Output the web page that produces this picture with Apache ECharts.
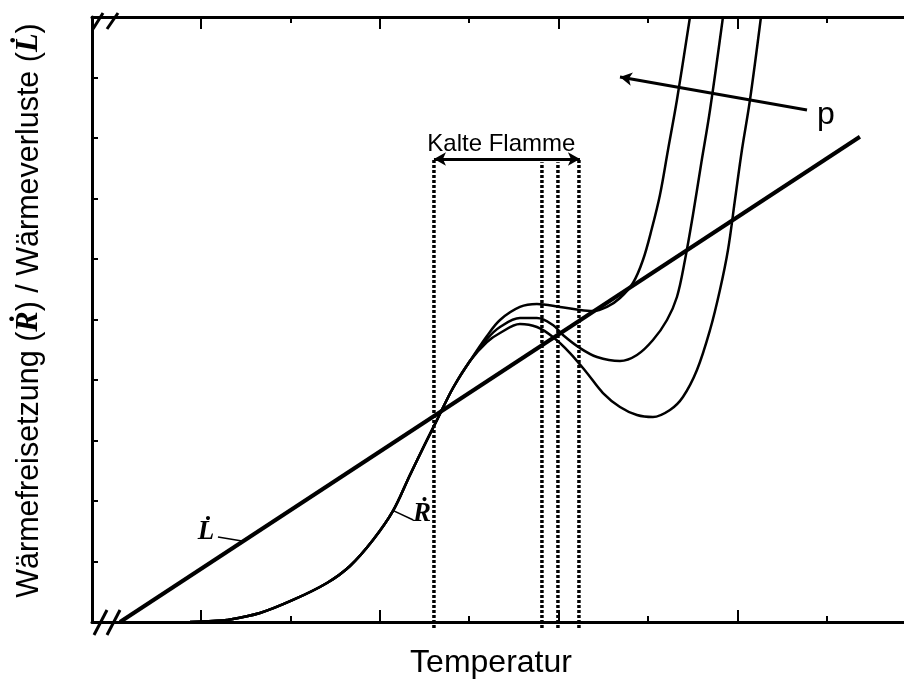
<!DOCTYPE html>
<html><head><meta charset="utf-8">
<script src="https://cdn.jsdelivr.net/npm/echarts@6/dist/echarts.min.js"></script>
<style>html,body{margin:0;padding:0;background:#fff}#c{width:904px;height:686px}</style>
</head><body><div id="c"></div>
<script>
// ---------------- data (axis units) ----------------
const X_MIN = 7.81, X_MAX = 98.64, Y_MIN = 0, Y_MAX = 10, Y_STEP = 1;
const xMajorTicks = [20, 40, 60, 80];
const xMinorTicks = [30, 50, 70, 90];
const xAxisTitle = 'Temperatur';
const yAxisTitleParts = ['Wärmefreisetzung (', 'R\u0307', ') / Wärmeverluste (', 'L\u0307', ')'];

// heat loss L (straight line)
const lossX = [10.94, 93.71];
const lossY = [0, 8.02];

// heat release R: common lower part
const commonX = [18.77, 21.34, 22.91, 26.60, 30.29, 34.09, 36.67, 39.24, 41.48, 43.38, 45.06, 46.40, 48.19, 50.09];
const commonY = [0, 0.017, 0.033, 0.149, 0.364, 0.645, 0.926, 1.355, 1.835, 2.43, 2.942, 3.339, 3.868, 4.314];
// three pressures (branches after the common part)
const branch1X = [51.99, 53.45, 55.68, 57.58, 60.16, 62.39, 63.85, 65.41, 66.87, 68.32, 69.44, 70.45, 71.34, 72.24, 73.24, 74.70];
const branch1Y = [4.727, 4.992, 5.207, 5.256, 5.207, 5.157, 5.140, 5.207, 5.355, 5.603, 5.983, 6.512, 7.058, 7.802, 8.628, 10.0];
const branch2X = [51.99, 53.45, 55.68, 57.58, 59.37, 60.49, 62.39, 64.30, 66.87, 68.77, 70.56, 72.13, 73.24, 74.14, 75.03, 75.93, 76.94, 78.39];
const branch2Y = [4.678, 4.876, 5.025, 5.025, 4.909, 4.744, 4.529, 4.380, 4.314, 4.413, 4.661, 4.992, 5.372, 5.983, 6.727, 7.554, 8.463, 10.0];
const branch3X = [51.99, 53.45, 55.68, 57.58, 59.37, 61.28, 63.18, 64.97, 66.87, 68.77, 70.56, 72.46, 73.91, 75.48, 76.94, 78.05, 78.95, 79.73, 80.51, 81.41, 82.64];
const branch3Y = [4.628, 4.777, 4.926, 4.876, 4.711, 4.446, 4.116, 3.785, 3.554, 3.421, 3.388, 3.504, 3.719, 4.165, 4.826, 5.488, 6.149, 6.975, 7.802, 8.628, 10.0];

// cool flame boundaries (vertical dotted lines)
const coolFlameX = [46.06, 58.14, 59.93, 62.28];
const coolFlameTopY = [7.64, 7.60, 7.60, 7.64];
const coolFlameBottomY = -0.1;
const coolFlameArrowX = [46.06, 62.39];
const coolFlameArrowY = 7.653;
const coolFlameLabel = 'Kalte Flamme';

// pressure arrow
const pArrowFrom = [87.79, 8.463];
const pArrowTo = [66.87, 9.008];
const pLabel = 'p';

// ---------------- build ----------------
const zip = (xs, ys) => xs.map((x, i) => [x, ys[i]]);
const curve = (bx, by) => zip(commonX, commonY).concat(zip(bx, by));
const chart = echarts.init(document.getElementById('c'), null, {renderer: 'canvas'});
const SANS = 'Liberation Sans, Arial, sans-serif';
const SERIF = 'Liberation Serif, Times New Roman, serif';

const baseX = (pos, ticks, len, showLine) => ({
  type: 'value', position: pos, min: X_MIN, max: X_MAX, gridIndex: 0,
  axisLine: {show: showLine, onZero: false, lineStyle: {color: '#000', width: 3}},
  axisTick: {show: true, inside: true, length: len, customValues: ticks, lineStyle: {color: '#000', width: 2}},
  axisLabel: {show: false}, splitLine: {show: false}
});

const xAxes = [
  Object.assign(baseX('bottom', xMajorTicks, 12, true), {name: xAxisTitle, nameLocation: 'middle', nameGap: 25,
    nameTextStyle: {fontFamily: SANS, fontSize: 32, color: '#000', padding: [0, 14, 0, 0]}}),
  baseX('bottom', xMinorTicks, 6, false),
  baseX('top', xMajorTicks, 12, true),
  baseX('top', xMinorTicks, 6, false)
];

const lineSeries = (data, w, extra) => Object.assign({
  type: 'line', data, xAxisIndex: 0, yAxisIndex: 0, showSymbol: false, smooth: 0.35,
  lineStyle: {color: '#000', width: w}, silent: true, clip: true
}, extra || {});

const ml = (a, b, style, syms) => [
  {coord: a, symbol: syms[0], lineStyle: style},
  {coord: b, symbol: syms[1]}
];

const markData = [];
markData.push(ml([coolFlameArrowX[0], coolFlameArrowY], [coolFlameArrowX[1], coolFlameArrowY], {color: '#000', width: 3, type: 'solid'}, ['arrow', 'arrow']));
markData.push(ml(pArrowFrom, pArrowTo, {color: '#000', width: 3, type: 'solid'}, ['none', 'arrow']));

const dottedSeries = coolFlameX.map((x, i) => lineSeries(
  [[x, coolFlameBottomY], [x, coolFlameTopY[i]]], 3.5,
  {smooth: false, clip: false, lineStyle: {color: '#000', width: 3.5, type: [3, 2], cap: 'butt'}}));

chart.setOption({
  animation: false,
  backgroundColor: '#fff',
  grid: {left: 92, right: 0, top: 17, bottom: 64, containLabel: false},
  xAxis: xAxes,
  yAxis: [{
    type: 'value', min: Y_MIN, max: Y_MAX, interval: Y_STEP, position: 'left',
    axisLine: {show: true, onZero: false, lineStyle: {color: '#000', width: 3}},
    axisTick: {show: true, inside: true, length: 6, lineStyle: {color: '#000', width: 2}},
    axisLabel: {show: false}, splitLine: {show: false},
    name: yAxisTitleParts[0] + '{s|' + yAxisTitleParts[1] + '}' + yAxisTitleParts[2] + '{s|' + yAxisTitleParts[3] + '}' + yAxisTitleParts[4],
    nameLocation: 'middle', nameGap: 47, nameRotate: 90,
    nameTextStyle: {fontFamily: SANS, fontSize: 30.5, color: '#000', padding: [0, 0, 0, 18],
      rich: {s: {fontFamily: SERIF, fontSize: 30.5, fontStyle: 'italic', fontWeight: 'bold', color: '#000'}}}
  }],
  series: [
    lineSeries(zip(lossX, lossY), 4),
    lineSeries(curve(branch1X, branch1Y), 2.5),
    lineSeries(curve(branch2X, branch2Y), 2.5),
    lineSeries(curve(branch3X, branch3Y), 2.5),
    ...dottedSeries,
    {type: 'line', data: [], xAxisIndex: 0, yAxisIndex: 0, silent: true, clip: false,
     markLine: {silent: true, animation: false, symbolSize: [10, 12], label: {show: false},
       emphasis: {disabled: true}, data: markData}}
  ]
});

// ---------------- annotations ----------------
const P = (x, y) => chart.convertToPixel({gridIndex: 0}, [x, y]);
const annot = [];
const txt = (pt, text, font, size, align, vAlign, extra) => annot.push({
  type: 'text', x: pt[0], y: pt[1], silent: true,
  style: Object.assign({text, fill: '#000', fontFamily: font, fontSize: size, align, verticalAlign: vAlign}, extra || {})
});
const seg = (a, b, w) => annot.push({type: 'line', silent: true,
  shape: {x1: a[0], y1: a[1], x2: b[0], y2: b[1]}, style: {stroke: '#000', lineWidth: w}});

txt(P(53.6, 7.90), coolFlameLabel, SANS, 24, 'center', 'middle');
txt(P(88.9, 8.38), pLabel, SANS, 32, 'left', 'middle');
// L and R labels with leader lines
txt(P(20.56, 1.49), 'L\u0307', SERIF, 27, 'center', 'middle', {fontStyle: 'italic', fontWeight: 'bold'});
seg(P(21.9, 1.405), P(24.59, 1.339), 1.5);
txt(P(44.72, 1.785), 'R\u0307', SERIF, 27, 'center', 'middle', {fontStyle: 'italic', fontWeight: 'bold'});
seg(P(41.51, 1.84), P(43.75, 1.686), 1.5);

// axis breaks
const bl = P(X_MIN, Y_MIN), tl = P(X_MIN, Y_MAX);
annot.push({type: 'rect', silent: true, shape: {x: tl[0] + 5, y: tl[1] - 4, width: 20, height: 8}, style: {fill: '#fff'}});
[[2, 15], [15, 28]].forEach(([a, b]) => seg([bl[0] + a, bl[1] + 13], [bl[0] + b, bl[1] - 12], 3));
[[1, 11], [15, 26]].forEach(([a, b]) => seg([tl[0] + a, tl[1] + 12], [tl[0] + b, tl[1] - 4], 3));

chart.setOption({graphic: annot});
</script></body></html>
